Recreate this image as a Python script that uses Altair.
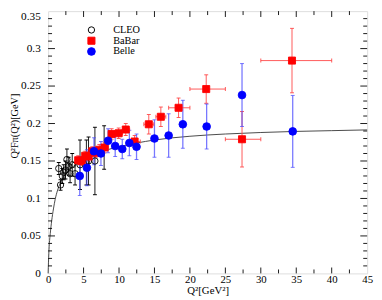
import altair as alt
import pandas as pd

# ---------------- data ----------------
cleo_q2 = [1.5, 1.75, 2.0, 2.2, 2.45, 2.65, 2.9, 3.1, 3.4, 3.8, 4.5, 5.4, 5.7, 6.6, 7.9]
cleo_f = [0.140, 0.118, 0.130, 0.135, 0.138, 0.152, 0.143, 0.133, 0.145, 0.133, 0.145, 0.148, 0.150, 0.150, 0.168]
cleo_err = [0.008, 0.007, 0.010, 0.010, 0.012, 0.014, 0.012, 0.012, 0.015, 0.015, 0.033, 0.030, 0.032, 0.045, 0.029]

babar_q2 = [4.24, 4.74, 5.23, 5.72, 6.22, 6.72, 7.22, 7.97, 8.96, 9.95, 10.95, 12.2, 14.2, 15.9, 18.4, 22.3, 27.35, 34.4]
babar_f = [0.151, 0.150, 0.157, 0.156, 0.163, 0.161, 0.165, 0.168, 0.186, 0.187, 0.192, 0.176, 0.199, 0.209, 0.221, 0.246, 0.179, 0.284]
babar_err = [0.006, 0.006, 0.006, 0.006, 0.006, 0.006, 0.007, 0.007, 0.007, 0.007, 0.008, 0.008, 0.013, 0.013, 0.013, 0.019, 0.037, 0.043]
babar_lo = [4.0, 4.5, 5.0, 5.5, 6.0, 6.5, 7.0, 7.5, 8.5, 9.5, 10.5, 11.5, 13.5, 15.2, 17.0, 20.0, 25.0, 30.0]
babar_hi = [4.5, 5.0, 5.5, 6.0, 6.5, 7.0, 7.5, 8.5, 9.5, 10.5, 11.5, 13.0, 14.9, 16.6, 20.0, 25.0, 30.0, 40.0]

belle_q2 = [4.46, 5.47, 6.47, 7.45, 8.46, 9.46, 10.46, 11.46, 12.47, 15.0, 17.0, 19.0, 22.36, 27.35, 34.5]
belle_f = [0.130, 0.141, 0.163, 0.160, 0.177, 0.170, 0.166, 0.174, 0.169, 0.180, 0.184, 0.199, 0.196, 0.238, 0.1895]
belle_err = [0.026, 0.024, 0.018, 0.016, 0.016, 0.014, 0.013, 0.017, 0.017, 0.025, 0.029, 0.032, 0.030, 0.042, 0.048]

curve_q2 = [0, 0.05, 0.15, 0.3, 0.5, 0.75, 1.0, 1.3, 1.6, 2.0, 2.5, 3.0, 4.0, 5.0, 6.0, 8.0,
            10.0, 12.5, 15.0, 20.0, 25.0, 30.0, 35.0, 40.0, 45.0]
curve_f = [0, 0.015, 0.036, 0.053, 0.070, 0.086, 0.099, 0.110, 0.118, 0.126, 0.133, 0.138, 0.146, 0.152,
           0.157, 0.164, 0.169, 0.174, 0.178, 0.183, 0.186, 0.188, 0.1895, 0.1905, 0.1915]

series_names = ["CLEO", "BaBar", "Belle"]
x_labels = [0, 5, 10, 15, 20, 25, 30, 35, 40, 45]
y_labels = [0, 0.05, 0.1, 0.15, 0.2, 0.25, 0.3, 0.35]
x_major_ticks = [5, 10, 15, 20, 25, 30, 35, 40]
x_minor_ticks = [2.5, 7.5, 12.5, 17.5, 22.5, 27.5, 32.5, 37.5, 42.5]
y_major_ticks = [0.05, 0.1, 0.15, 0.2, 0.25, 0.3]
y_minor_ticks = [round(i * 0.01, 2) for i in range(1, 35) if i % 5 != 0]

# ---------------- tables ----------------
cleo = pd.DataFrame({"q2": cleo_q2, "f": cleo_f, "e": cleo_err, "series": "CLEO"})
babar = pd.DataFrame({"q2": babar_q2, "f": babar_f, "e": babar_err, "lo": babar_lo, "hi": babar_hi, "series": "BaBar"})
belle = pd.DataFrame({"q2": belle_q2, "f": belle_f, "e": belle_err, "series": "Belle"})
for d in (cleo, babar, belle):
    d["flo"] = d["f"] - d["e"]
    d["fhi"] = d["f"] + d["e"]
points = pd.concat([cleo, babar, belle], ignore_index=True)
curve = pd.DataFrame({"q2": curve_q2, "f": curve_f})

W, H = 326, 268
FONT = "Liberation Serif"

xs = alt.Scale(domain=[0, 45], nice=False, zero=False)
ys = alt.Scale(domain=[0, 0.35], nice=False, zero=False)
xaxis = alt.Axis(title="Q²[GeV²]", values=x_labels, ticks=False, domain=False, grid=False,
                 labelFont=FONT, labelFontSize=11, labelColor="black", labelPadding=0,
                 labelFlush=False, titleFont=FONT, titleFontSize=11, titleFontWeight="normal",
                 titleColor="black", titleY=21, titleBaseline="alphabetic")
yaxis = alt.Axis(title="Q²Fπ(Q²)[GeV]", values=y_labels, format="~g", ticks=False, domain=False,
                 grid=False, labelFont=FONT, labelFontSize=11.5, labelColor="black", labelPadding=8,
                 labelFlush=False,
                 labelBaseline={"condition": {"test": "datum.value >= 0.35", "value": "top"}, "value": "middle"},
                 titleFont=FONT, titleFontSize=10.5, titleFontWeight="normal", titleColor="black",
                 titleX=-29, titleY=117, titleAngle=-90, titleAlign="center", titleBaseline="bottom")


def X(f):
    return alt.X(f, type="quantitative", scale=xs, axis=xaxis)


def Y(f):
    return alt.Y(f, type="quantitative", scale=ys, axis=yaxis)


layers = []

# curve
layers.append(alt.Chart(curve).mark_line(color="#333333", strokeWidth=0.9, interpolate="monotone")
              .encode(x=X("q2"), y=Y("f")))

# vertical error bars
bar_cols = {"CLEO": ("black", 0.9, 1.0), "BaBar": ("#ff4545", 1.0, 0.9), "Belle": ("#4b4bff", 1.3, 0.75)}
for name, d in (("CLEO", cleo), ("BaBar", babar), ("Belle", belle)):
    col, sw, op = bar_cols[name]
    layers.append(alt.Chart(d).mark_rule(color=col, strokeWidth=sw, opacity=op)
                  .encode(x=X("q2"), y=Y("flo"), y2="fhi"))
    for fld in ("flo", "fhi"):
        layers.append(alt.Chart(d).mark_tick(color=col, orient="horizontal", size=4, thickness=1, opacity=op)
                      .encode(x=X("q2"), y=Y(fld)))

# horizontal BaBar bars
layers.append(alt.Chart(babar).mark_rule(color="#ff4545", strokeWidth=1, opacity=0.9)
              .encode(x=X("lo"), x2="hi", y=Y("f")))
for fld in ("lo", "hi"):
    layers.append(alt.Chart(babar).mark_tick(color="#ff4545", orient="vertical", size=4, thickness=1, opacity=0.9)
                  .encode(x=X(fld), y=Y("f")))

# markers with legend
leg = alt.Legend(title=None, orient="none", legendX=39, legendY=14, labelFont=FONT, labelFontSize=10.5,
                 labelColor="black", rowPadding=-5, labelOffset=17, symbolStrokeWidth=1)
layers.append(alt.Chart(points).mark_point(filled=True, opacity=1, strokeWidth=0.9).encode(
    x=X("q2"), y=Y("f"),
    shape=alt.Shape("series:N", scale=alt.Scale(domain=series_names, range=["circle", "square", "circle"]), legend=leg),
    fill=alt.Fill("series:N", scale=alt.Scale(domain=series_names, range=["transparent", "#ff0000", "#0000ff"]), legend=leg),
    stroke=alt.Stroke("series:N", scale=alt.Scale(domain=series_names, range=["black", "#ff0000", "#0000ff"]), legend=leg),
    size=alt.Size("series:N", scale=alt.Scale(domain=series_names, range=[42, 62, 72]), legend=leg),
))

# inward ticks (all four sides)
ymaj = pd.DataFrame({"v": y_major_ticks})
ymin = pd.DataFrame({"v": y_minor_ticks})
xmaj = pd.DataFrame({"v": x_major_ticks})
xmin = pd.DataFrame({"v": x_minor_ticks})
for df, ln in ((ymaj, 7), (ymin, 4)):
    layers.append(alt.Chart(df).mark_rule(color="black", strokeWidth=0.9)
                  .encode(y=Y("v"), x=alt.value(0), x2=alt.value(ln)))
    layers.append(alt.Chart(df).mark_rule(color="black", strokeWidth=0.9)
                  .encode(y=Y("v"), x=alt.value(W), x2=alt.value(W - ln)))
for df, ln in ((xmaj, 6), (xmin, 4)):
    layers.append(alt.Chart(df).mark_rule(color="black", strokeWidth=0.9)
                  .encode(x=X("v"), y=alt.value(H), y2=alt.value(H - ln)))
    layers.append(alt.Chart(df).mark_rule(color="black", strokeWidth=0.9)
                  .encode(x=X("v"), y=alt.value(0), y2=alt.value(ln)))

chart = alt.layer(*layers).properties(
    width=W, height=H,
    autosize=alt.AutoSizeParams(type="none"),
    padding={"left": 41, "top": 0, "right": 7, "bottom": 24},
).configure_view(stroke="black", strokeWidth=1.2).configure(background="white")

chart.save("out.html", embed_options={"renderer": "svg", "actions": False})
